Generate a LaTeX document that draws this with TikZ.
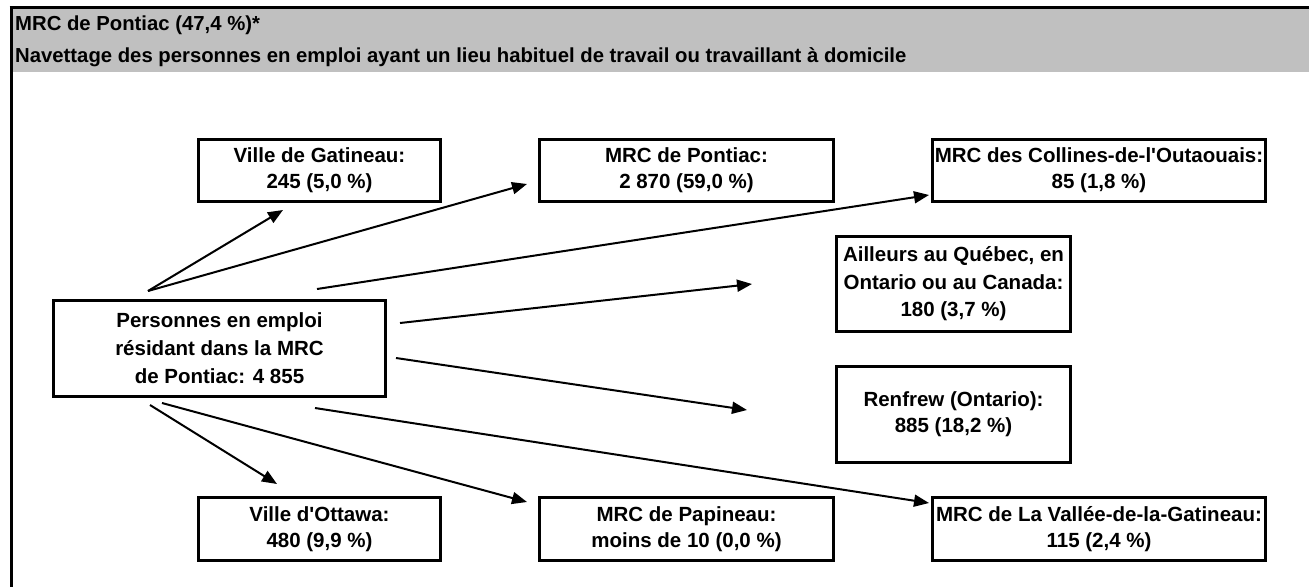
\documentclass[tikz,border=0pt]{standalone}
\usepackage{fontspec}
\setmainfont{Liberation Sans}
\usetikzlibrary{arrows.meta}
\definecolor{hdrgray}{RGB}{192,192,192}
\begin{document}
\begin{tikzpicture}[x=1pt,y=-1pt,
  box/.style={draw=black,line width=3pt,fill=white,inner sep=0pt,align=center,
    font=\fontsize{20.5}{26}\selectfont\bfseries},
  conn/.style={line width=2pt,-{Triangle[length=15pt,width=12pt]}},
  hdr/.style={anchor=base west,inner sep=0pt,font=\fontsize{20.3}{24}\selectfont\bfseries}]
\useasboundingbox (0,0) rectangle (1309,587);
% header
\fill[hdrgray] (12.5,9) rectangle (1309,72);
\draw[line width=3pt] (9.5,7.5) -- (1309,7.5);
\draw[line width=3pt] (11,6) -- (11,587);
\node[hdr] (h1) at (15,30) {MRC de Pontiac (47,4~\%)*};
\node[hdr] (h2) at (15,62) {Navettage des personnes en emploi ayant un lieu habituel de travail ou travaillant à domicile};
% boxes
\node[box,minimum width=242pt,minimum height=62pt] (gat) at (319.5,170.5) {Ville de Gatineau:\\245 (5,0~\%)};
\node[box,minimum width=294pt,minimum height=62pt] (pon) at (686.5,170.5) {MRC de Pontiac:\\2~870 (59,0~\%)};
\node[box,minimum width=333pt,minimum height=62pt] (col) at (1099,170.5) {MRC des Collines-de-l\textquotesingle Outaouais:\\85 (1,8~\%)};
\node[box,minimum width=234pt,minimum height=95pt,font=\fontsize{20.5}{27.5}\selectfont\bfseries] (ail) at (953.5,284) {Ailleurs au Québec, en\\Ontario ou au Canada:\\180 (3,7~\%)};
\node[box,minimum width=332pt,minimum height=96pt,font=\fontsize{20.5}{28}\selectfont\bfseries] (ctr) at (219.5,348.5) {Personnes en emploi\\résidant dans la MRC\\de Pontiac: 4~855};
\node[box,minimum width=234pt,minimum height=96pt] (ren) at (953.5,414.5) {Renfrew (Ontario):\\885 (18,2~\%)};
\node[box,minimum width=242pt,minimum height=63pt] (ott) at (319.5,529) {Ville d\textquotesingle Ottawa:\\480 (9,9~\%)};
\node[box,minimum width=294pt,minimum height=63pt] (pap) at (686.5,529) {MRC de Papineau:\\moins de 10 (0,0~\%)};
\node[box,minimum width=333pt,minimum height=63pt] (val) at (1099,529) {MRC de La Vallée-de-la-Gatineau:\\115 (2,4~\%)};
% connector end points
\coordinate (sg) at (148,291); \coordinate (tg) at (283,210);
\coordinate (tp) at (527,184);
\coordinate (sc) at (317,289); \coordinate (tc) at (929,195);
\coordinate (sa) at (400,323); \coordinate (ta) at (752,284);
\coordinate (sr) at (396,358); \coordinate (tr) at (747,410);
\coordinate (so) at (150,405); \coordinate (to) at (277,484);
\coordinate (sp) at (162,403); \coordinate (tpp) at (527,502);
\coordinate (sv) at (315,408); \coordinate (tv) at (929,503);
\draw[conn] (sg) -- (tg);
\draw[conn] (sg) -- (tp);
\draw[conn] (sc) -- (tc);
\draw[conn] (sa) -- (ta);
\draw[conn] (sr) -- (tr);
\draw[conn] (so) -- (to);
\draw[conn] (sp) -- (tpp);
\draw[conn] (sv) -- (tv);
\end{tikzpicture}
\end{document}
